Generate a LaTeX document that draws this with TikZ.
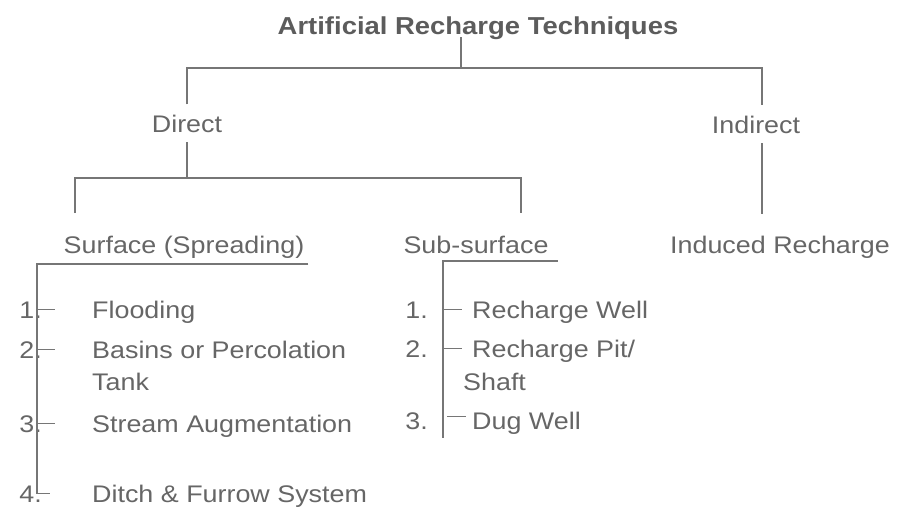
\documentclass[tikz,border=0pt]{standalone}
\usepackage{fontspec}
\setmainfont{Liberation Sans}[FakeStretch=1.12]
\usepackage{tikz}
\definecolor{txtgray}{HTML}{666666}
\definecolor{headgray}{HTML}{5C5C5C}
\definecolor{linegray}{HTML}{767676}

\begin{document}
\begin{tikzpicture}[x=1pt,y=-1pt,
    lbl/.style={inner sep=0pt,text=txtgray,font=\fontsize{24}{28}\selectfont},
    head/.style={inner sep=0pt,text=headgray,font=\fontsize{24.5}{28}\selectfont\bfseries},
    tree/.style={draw=linegray,line width=1.3pt}]
    \useasboundingbox (0,0) rectangle (913,509);
    % Top level
    \node[head,anchor=base] (title) at (478,34) {Artificial Recharge Techniques};
    \node[lbl,anchor=base] (direct) at (187,132) {Direct};
    \node[lbl,anchor=base] (indirect) at (756,133) {Indirect};
    \coordinate (top) at (461,68);
    \draw[tree] ([yshift=-3pt]title.base -| top) -- (top);
    \draw[tree] ([yshift=10pt]direct.north) |- (top) -| ([xshift=6pt,yshift=10pt]indirect.north);
    % Direct split
    \node[lbl,anchor=base] (surf) at (184,253) {Surface (Spreading)};
    \node[lbl,anchor=base] (sub) at (476,253) {Sub-surface};
    \coordinate (mid) at (187,178);
    \coordinate (sdrop) at (75,213);
    \coordinate (ssdrop) at (521,213);
    \draw[tree] ([yshift=-10pt]direct.south) -- (mid);
    \draw[tree] (sdrop) |- (mid) -| (ssdrop);
    % Indirect
    \node[lbl,anchor=base] (induced) at (780,253) {Induced Recharge};
    \draw[tree] ([xshift=6pt,yshift=-10pt]indirect.south) -- ++(0,71);
    % Surface list
    \coordinate (sbar) at (37,264);
    \foreach \n/\y/\t in {1/318/18,2/358/18,3/432/18,4/502/13}{
        \node[lbl,anchor=base east] (s\n) at (42,\y) {\n.};
        \draw[tree] (s\n -| sbar) -- ++(\t,0);
    }
    \draw[tree] ([xshift=4pt,yshift=-11pt]surf.base east) -- (sbar) -- (sbar |- s4);
    \node[lbl,anchor=base west] (flood) at (92,318) {Flooding};
    \node[lbl,anchor=base west] (basin) at (92,358) {Basins or Percolation};
    \node[lbl,anchor=base west] (tank) at (92,390) {Tank};
    \node[lbl,anchor=base west] (stream) at (92,432) {Stream Augmentation};
    \node[lbl,anchor=base west] (ditch) at (92,502) {Ditch \& Furrow System};
    % Sub-surface list
    \coordinate (ssbar) at (443,261);
    \foreach \n/\y/\g/\d in {1/318/0/0,2/357/0/0,3/429/4/4}{
        \node[lbl,anchor=base east] (u\n) at (428,\y) {\n.};
        \draw[tree] ([xshift=\g pt,yshift=\d pt]u\n -| ssbar) -- ++(19,0);
    }
    \draw[tree] ([xshift=9pt,yshift=-8pt]sub.base east) -- (ssbar) -- ([yshift=-17pt]ssbar |- u3);
    \node[lbl,anchor=base west] (well) at (472,318) {Recharge Well};
    \node[lbl,anchor=base west] (pit) at (472,357) {Recharge Pit/};
    \node[lbl,anchor=base west] (shaft) at (463,390) {Shaft};
    \node[lbl,anchor=base west] (dug) at (472,429) {Dug Well};
\end{tikzpicture}
\end{document}
